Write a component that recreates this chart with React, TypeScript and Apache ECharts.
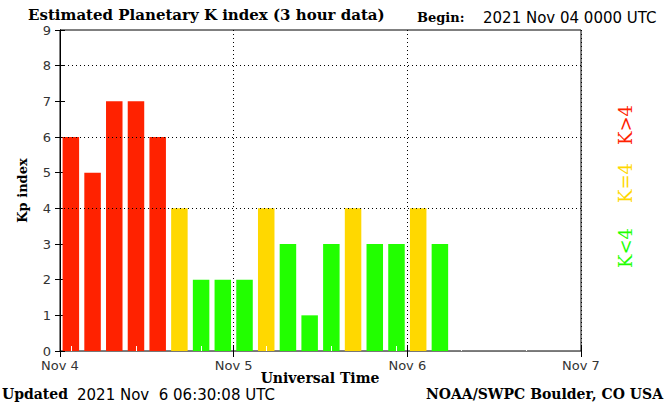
import React, { useEffect, useRef } from "react";
import * as echarts from "echarts";

const slotLabels = [
  "Nov 4 00", "Nov 4 03", "Nov 4 06", "Nov 4 09", "Nov 4 12", "Nov 4 15", "Nov 4 18", "Nov 4 21",
  "Nov 5 00", "Nov 5 03", "Nov 5 06", "Nov 5 09", "Nov 5 12", "Nov 5 15", "Nov 5 18", "Nov 5 21",
  "Nov 6 00", "Nov 6 03", "Nov 6 06", "Nov 6 09", "Nov 6 12", "Nov 6 15", "Nov 6 18", "Nov 6 21",
];
const kpValues = [6, 5, 7, 7, 6, 4, 2, 2, 2, 4, 3, 1, 3, 4, 3, 3, 4, 3];
const dayLabels = ["Nov 4", "Nov 5", "Nov 6", "Nov 7"];
const yTicks = [0, 1, 2, 3, 4, 5, 6, 7, 8, 9];
const gridValues = [4, 6, 8];

const RED = "#ff2200";
const YELLOW = "#ffd800";
const GREEN = "#22ff00";
const SERIF = "'DejaVu Serif', serif";
const SANS = "'DejaVu Sans', sans-serif";

function colorFor(v: number) {
  if (v > 4) return RED;
  if (v === 4) return YELLOW;
  return GREEN;
}

export default function App() {
  const ref = useRef<HTMLDivElement>(null);
  useEffect(() => {
    if (!ref.current) return;
    const chart = echarts.init(ref.current, null, { renderer: "svg" });
    chart.setOption({
      animation: false,
      backgroundColor: "#fff",
      grid: {
        left: 60,
        right: 84,
        top: 30,
        bottom: 54,
        show: true,
        borderColor: "#000",
        borderWidth: 1,
      },
      xAxis: [
        {
          type: "value",
          position: "bottom",
          min: 0,
          max: 72,
          interval: 24,
          axisLine: { show: true, lineStyle: { color: "#777" } },
          axisTick: { show: true, inside: true, length: 6, lineStyle: { color: "#000" } },
          axisLabel: {
            fontFamily: SANS,
            fontSize: 13,
            color: "#333",
            margin: 8,
            formatter: (v: number) => dayLabels[Math.round(v / 24)] ?? "",
          },
          splitLine: { show: true, lineStyle: { color: "#000", type: [1, 3], width: 1 } },
        },
        {
          type: "value",
          position: "top",
          min: 0,
          max: 72,
          interval: 24,
          axisLine: { show: false },
          axisTick: { show: true, inside: true, length: 6, lineStyle: { color: "#000" } },
          axisLabel: { show: false },
          splitLine: { show: false },
        },
        {
          type: "category",
          position: "bottom",
          data: slotLabels,
          z: 5,
          axisLine: { show: false },
          axisTick: { show: true, inside: true, alignWithLabel: true, length: 5, lineStyle: { color: "#fff" } },
          axisLabel: { show: false },
          splitLine: { show: false },
        },
      ],
      yAxis: [
        {
          type: "value",
          position: "left",
          min: 0,
          max: 9,
          interval: 1,
          axisLine: { show: true, lineStyle: { color: "#000" } },
          axisTick: { show: true, inside: true, length: 5, lineStyle: { color: "#000" } },
          axisLabel: {
            fontFamily: SANS,
            fontSize: 13,
            color: "#333",
            margin: 9,
            formatter: (v: number) => (yTicks.includes(v) ? String(v) : ""),
          },
          splitLine: { show: false },
          name: "Kp index",
          nameLocation: "middle",
          nameGap: 31,
          nameTextStyle: { fontFamily: SERIF, fontWeight: "bold", fontSize: 13, color: "#000" },
        },
        {
          type: "value",
          position: "right",
          min: 0,
          max: 9,
          interval: 1,
          axisLine: { show: true, lineStyle: { color: "#000" } },
          axisTick: { show: true, inside: true, length: 5, lineStyle: { color: "#000" } },
          axisLabel: { show: false },
          splitLine: { show: false },
        },
      ],
      series: [
        {
          type: "bar",
          xAxisIndex: 2,
          yAxisIndex: 0,
          barWidth: "76%",
          data: kpValues.map((v) => ({ value: v, itemStyle: { color: colorFor(v) } })),
          markLine: {
            silent: true,
            symbol: "none",
            label: { show: false },
            lineStyle: { color: "#000", type: [1, 3], width: 1 },
            data: gridValues.map((g) => ({ yAxis: g })),
          },
        },
      ],
      graphic: [
        {
          type: "text",
          left: 28,
          top: 7,
          style: {
            text: "Estimated Planetary K index (3 hour data)",
            font: `bold 15px ${SERIF}`,
            fill: "#000",
          },
        },
        {
          type: "text",
          left: 417,
          top: 11,
          style: { text: "Begin:", font: `bold 13px ${SERIF}`, fill: "#000" },
        },
        {
          type: "text",
          left: 483,
          top: 10,
          style: { text: "2021 Nov 04 0000 UTC", font: `15px ${SANS}`, fill: "#000" },
        },
        {
          type: "text",
          x: 320,
          y: 378,
          style: {
            text: "Universal Time",
            font: `bold 14px ${SERIF}`,
            fill: "#000",
            align: "center",
            verticalAlign: "middle",
          },
        },
        {
          type: "text",
          left: 2,
          top: 387,
          style: { text: "Updated", font: `bold 14px ${SERIF}`, fill: "#000" },
        },
        {
          type: "text",
          left: 77,
          top: 387,
          style: { text: "2021 Nov\u00a0 6 06:30:08 UTC", font: `15px ${SANS}`, fill: "#000" },
        },
        {
          type: "text",
          right: 2,
          top: 387,
          style: { text: "NOAA/SWPC Boulder, CO USA", font: `bold 14px ${SERIF}`, fill: "#000" },
        },
        {
          type: "text",
          x: 625,
          y: 125,
          rotation: Math.PI / 2,
          style: { text: "K>4", font: `18px ${SERIF}`, fill: RED, align: "center", verticalAlign: "middle" },
        },
        {
          type: "text",
          x: 625,
          y: 183,
          rotation: Math.PI / 2,
          style: { text: "K=4", font: `18px ${SERIF}`, fill: YELLOW, align: "center", verticalAlign: "middle" },
        },
        {
          type: "text",
          x: 625,
          y: 248,
          rotation: Math.PI / 2,
          style: { text: "K<4", font: `18px ${SERIF}`, fill: GREEN, align: "center", verticalAlign: "middle" },
        },
      ],
    });
    return () => chart.dispose();
  }, []);
  return <div ref={ref} style={{ width: 665, height: 405, position: "absolute", left: 0, top: 0 }} />;
}
